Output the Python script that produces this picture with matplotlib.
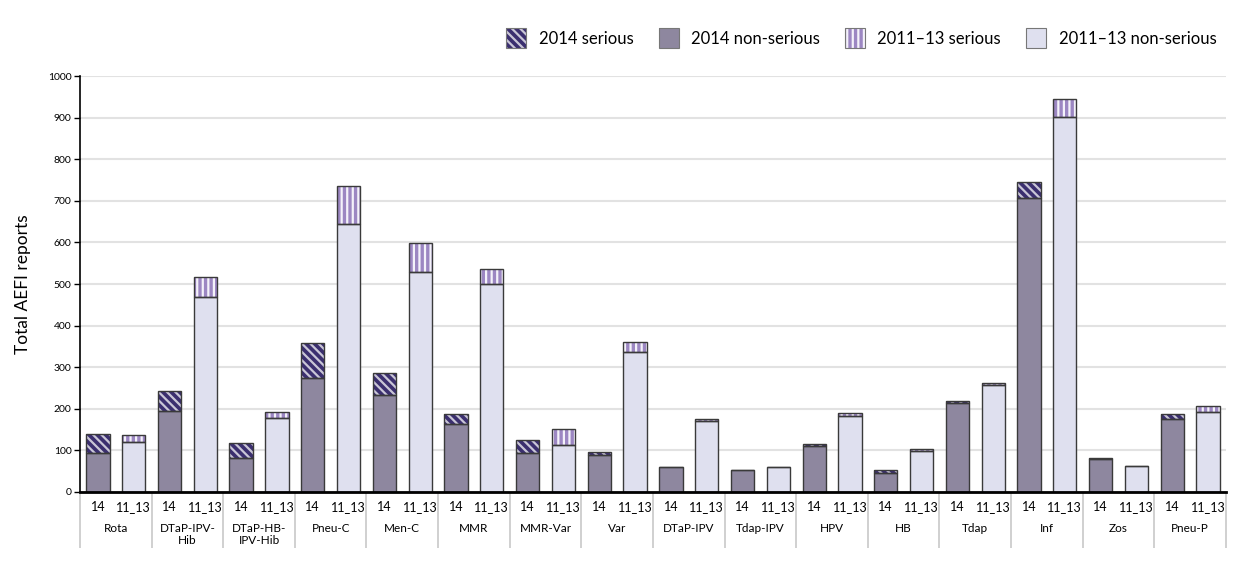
import numpy as np
import matplotlib
matplotlib.use('Agg')
import matplotlib.pyplot as plt
from matplotlib.patches import Patch
from matplotlib.legend_handler import HandlerTuple

plt.rcParams['font.family'] = ['Lato', 'DejaVu Sans']
plt.rcParams['hatch.linewidth'] = 1.6

# vaccine groups and values
vaccines = ['Rota', 'DTaP-IPV-\nHib', 'DTaP-HB-\nIPV-Hib', 'Pneu-C', 'Men-C', 'MMR',
            'MMR-Var', 'Var', 'DTaP-IPV', 'Tdap-IPV', 'HPV', 'HB', 'Tdap', 'Inf',
            'Zos', 'Pneu-P']
sub_labels = ['14', '11_13']
nonserious_2014 = [94, 195, 82, 274, 232, 164, 94, 90, 59, 53, 111, 46, 214, 706, 80, 175]
serious_2014 = [46, 47, 35, 83, 53, 24, 31, 6, 1, 1, 5, 8, 5, 40, 1, 12]
nonserious_1113 = [120, 468, 178, 645, 530, 501, 113, 336, 170, 60, 182, 99, 258, 901, 62, 193]
serious_1113 = [18, 50, 14, 91, 68, 36, 38, 24, 6, 1, 8, 4, 4, 45, 1, 13]

# colours
c_ns14 = '#8e879f'
c_s14 = '#3b2f6f'
c_ns1113 = '#dfe0ef'
c_s1113 = '#9c87c2'
c_edge = '#3a3a3a'
h14 = '\\\\\\\\'
h1113 = '|||'

fig = plt.figure(figsize=(12.4, 5.85), dpi=100)
ax = fig.add_axes([0.0645, 0.159, 0.9242, 0.711])

n = len(vaccines)
x14 = np.arange(n) * 2 + 0.5
x1113 = np.arange(n) * 2 + 1.5
w = 0.65

ns14 = np.array(nonserious_2014)
s14 = np.array(serious_2014)
ns1113 = np.array(nonserious_1113)
s1113 = np.array(serious_1113)

# filled segments
ax.bar(x14, ns14, w, color=c_ns14, linewidth=0)
ax.bar(x14, s14, w, bottom=ns14, color=c_s14, edgecolor='#c9c6d6', hatch=h14, linewidth=0)
ax.bar(x1113, ns1113, w, color=c_ns1113, linewidth=0)
ax.bar(x1113, s1113, w, bottom=ns1113, color=c_s1113, edgecolor='#f4f2fa', hatch=h1113, linewidth=0)

# outlines
for xs, a, b in [(x14, ns14, s14), (x1113, ns1113, s1113)]:
    ax.bar(xs, a, w, fill=False, edgecolor=c_edge, linewidth=1)
    ax.bar(xs, b, w, bottom=a, fill=False, edgecolor=c_edge, linewidth=1)

ax.set_xlim(0, 2 * n)
ax.set_ylim(0, 1000)
ax.set_yticks(np.arange(0, 1001, 100))
ax.yaxis.grid(True, color='#e2e2e2', linewidth=1.5)
ax.set_axisbelow(True)
ax.set_xticks([])
ax.tick_params(axis='y', labelsize=7.5, length=4, width=1, pad=2)
for s in ['top', 'right']:
    ax.spines[s].set_visible(False)
ax.spines['left'].set_linewidth(1.2)
ax.spines['bottom'].set_linewidth(2)
ax.set_ylabel('Total AEFI reports', fontsize=12.5, labelpad=12)

# category labels under the axis
tr = ax.get_xaxis_transform()
for i in range(n):
    ax.text(x14[i], -0.037, sub_labels[0], transform=tr, ha='center', va='center', fontsize=9)
    ax.text(x1113[i], -0.037, sub_labels[1], transform=tr, ha='center', va='center', fontsize=9)
    ax.text(2 * i + 1, -0.075, vaccines[i], transform=tr, ha='center', va='top',
            fontsize=8.5, linespacing=1.1)
ax.vlines(np.arange(0, 2 * n + 1, 2), -0.135, 0, transform=tr, colors='#c8c8c8',
          linewidth=1.2, clip_on=False)

frame = dict(fill=False, edgecolor='#777777', linewidth=0.8)
handles = [
    (Patch(facecolor=c_s14, edgecolor='#c9c6d6', hatch=h14, linewidth=0), Patch(**frame)),
    (Patch(facecolor=c_ns14, linewidth=0), Patch(**frame)),
    (Patch(facecolor=c_s1113, edgecolor='#f4f2fa', hatch=h1113, linewidth=0), Patch(**frame)),
    (Patch(facecolor=c_ns1113, linewidth=0), Patch(**frame)),
]
labels = ['2014 serious', '2014 non-serious', '2011\u201313 serious', '2011\u201313 non-serious']
fig.legend(handles, labels, ncol=4, loc='center right', bbox_to_anchor=(0.993, 0.935),
           frameon=False, fontsize=12, handlelength=1.2, handleheight=1.4,
           columnspacing=1.5, handletextpad=0.75,
           handler_map={tuple: HandlerTuple(ndivide=1, pad=0)})

fig.savefig('out.png', dpi=100)
